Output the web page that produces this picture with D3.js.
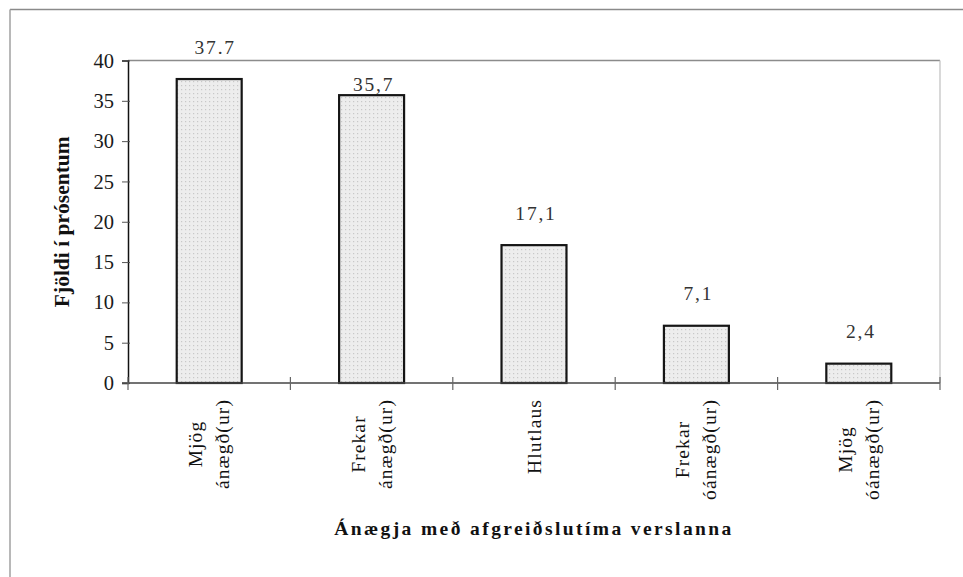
<!DOCTYPE html>
<html>
<head>
<meta charset="utf-8">
<script src="https://cdn.jsdelivr.net/npm/d3@7"></script>
<style>
  body { margin: 0; background: #fff; }
  svg { display: block; font-family: "Liberation Serif", "Times New Roman", serif; }
</style>
</head>
<body>
<svg width="963" height="577"></svg>
<script>
// chart values
var categories = [
  ["Mjög", "ánægð(ur)"],
  ["Frekar", "ánægð(ur)"],
  ["Hlutlaus"],
  ["Frekar", "óánægð(ur)"],
  ["Mjög", "óánægð(ur)"]
];
var values = [37.7, 35.7, 17.1, 7.1, 2.4];
var valueLabels = ["37.7", "35,7", "17,1", "7,1", "2,4"];
var yTicks = [0, 5, 10, 15, 20, 25, 30, 35, 40];
var yTitle = "Fjöldi í prósentum";
var xTitle = "Ánægja með afgreiðslutíma verslanna";

var svg = d3.select("svg");

var plotLeft = 128, plotRight = 940, plotTop = 60.5, plotBottom = 383;

// outer frame (only top and left edges are inside the picture)
svg.append("line").attr("x1", 10).attr("y1", 9.5).attr("x2", 963).attr("y2", 9.5)
  .attr("stroke", "#8a8a8a").attr("stroke-width", 1.5);
svg.append("line").attr("x1", 10).attr("y1", 9.5).attr("x2", 10).attr("y2", 577)
  .attr("stroke", "#a0a0a0").attr("stroke-width", 1.5);

var x = d3.scaleBand().domain(d3.range(categories.length)).range([plotLeft, plotRight]).paddingInner(0.6).paddingOuter(0.3);
var y = d3.scaleLinear().domain([0, 40]).range([plotBottom, plotTop]);

// stipple fill of the bars
var pat = svg.append("defs").append("pattern")
  .attr("id", "stipple").attr("patternUnits", "userSpaceOnUse")
  .attr("width", 4).attr("height", 4);
pat.append("rect").attr("width", 4).attr("height", 4).attr("fill", "#ededed");
pat.append("rect").attr("x", 1).attr("y", 1).attr("width", 1.2).attr("height", 1.2).attr("fill", "#c8c8c8");

// plot area border (top and right)
svg.append("line").attr("x1", plotLeft).attr("y1", plotTop).attr("x2", plotRight).attr("y2", plotTop)
  .attr("stroke", "#8c8c8c").attr("stroke-width", 1.3);
svg.append("line").attr("x1", plotRight).attr("y1", plotTop).attr("x2", plotRight).attr("y2", plotBottom)
  .attr("stroke", "#c4c4c4").attr("stroke-width", 1.3);

// bars
svg.selectAll(".bar").data(values).enter().append("rect")
  .attr("class", "bar")
  .attr("x", function(d, i) { return x(i); })
  .attr("y", function(d) { return y(d); })
  .attr("width", x.bandwidth())
  .attr("height", function(d) { return y(0) - y(d); })
  .attr("fill", "url(#stipple)")
  .attr("stroke", "#151515").attr("stroke-width", 2.2);

// y axis
var yAxis = svg.append("g").attr("transform", "translate(" + plotLeft + ",0)")
  .call(d3.axisLeft(y).tickValues(yTicks).tickSize(6).tickPadding(8));
yAxis.select(".domain").attr("stroke", "#111").attr("stroke-width", 1.5);
yAxis.selectAll(".tick line").attr("stroke", "#555").attr("x2", -6).attr("x1", 2);
yAxis.selectAll(".tick text").attr("font-size", 20.5).attr("fill", "#1a1a1a")
  .attr("font-family", "Liberation Serif, serif");

// x axis line and boundary ticks
var step = x.step();
svg.append("line").attr("x1", plotLeft - 6).attr("y1", plotBottom).attr("x2", plotRight).attr("y2", plotBottom)
  .attr("stroke", "#444").attr("stroke-width", 1.5);
svg.selectAll(".xtick").data(d3.range(categories.length + 1)).enter().append("line")
  .attr("class", "xtick")
  .attr("x1", function(i) { return plotLeft + i * step; })
  .attr("x2", function(i) { return plotLeft + i * step; })
  .attr("y1", plotBottom - 6).attr("y2", plotBottom + 7)
  .attr("stroke", "#666").attr("stroke-width", 1.2);

// value labels
var labelOffset = 25.5;
var labelNudge = { 1: 21 };
svg.selectAll(".val").data(values).enter().append("text")
  .attr("class", "val")
  .attr("x", function(d, i) { return x(i) + x.bandwidth() / 2 + (i === 0 ? 6 : 2); })
  .attr("y", function(d, i) { return y(d) - labelOffset + (labelNudge[i] || 0); })
  .attr("text-anchor", "middle")
  .attr("font-size", 19.5).attr("letter-spacing", 1.8)
  .attr("fill", "#333")
  .text(function(d, i) { return valueLabels[i]; });

// category labels, rotated; lines centered on the longest line, block starts below axis
var blockTop = 399, lineGap = 27;
categories.forEach(function(lines, i) {
  var cx = x(i) + x.bandwidth() / 2;
  var g = svg.append("g");
  var texts = lines.map(function(t, j) {
    return g.append("text")
      .attr("font-size", 19.5).attr("letter-spacing", 1.1).attr("fill", "#111")
      .attr("text-anchor", "middle")
      .attr("dominant-baseline", "central")
      .text(t);
  });
  var maxLen = d3.max(texts, function(t) { return t.node().getComputedTextLength(); });
  var cy = blockTop + maxLen / 2;
  texts.forEach(function(t, j) {
    var lx = cx + (j - (lines.length - 1) / 2) * lineGap;
    t.attr("transform", "translate(" + lx + "," + cy + ") rotate(-90)");
  });
});

// axis titles
svg.append("text")
  .attr("transform", "translate(62," + (plotTop + plotBottom) / 2 + ") rotate(-90)")
  .attr("text-anchor", "middle").attr("dominant-baseline", "central")
  .attr("font-size", 21.5).attr("font-weight", "bold").attr("fill", "#111")
  .text(yTitle);

svg.append("text")
  .attr("x", (plotLeft + plotRight) / 2).attr("y", 535)
  .attr("text-anchor", "middle")
  .attr("font-size", 19.5).attr("font-weight", "bold").attr("letter-spacing", 2.4).attr("fill", "#111")
  .text(xTitle);
</script>
</body>
</html>
